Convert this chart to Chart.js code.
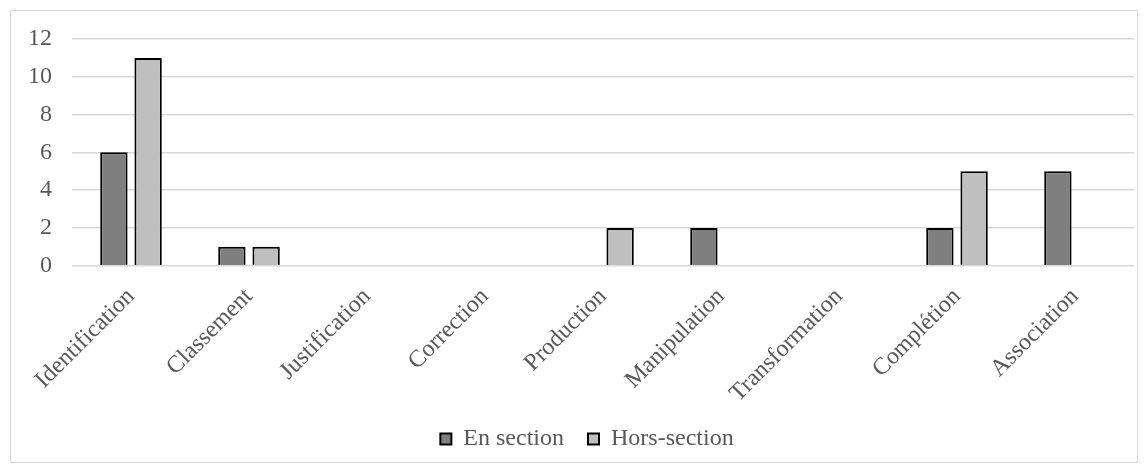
<!DOCTYPE html>
<html>
<head>
<meta charset="utf-8">
<script src="https://cdn.jsdelivr.net/npm/chart.js@4"></script>
<style>
	body { margin: 0; background: #fff; }
	#wrap {
		position: absolute;
		left: 10px;
		top: 10px;
		width: 1126px;
		height: 451px;
		border: 1px solid #d9d9d9;
	}
</style>
</head>
<body>
<div id="wrap"><canvas id="chart" width="1126" height="451"></canvas></div>
<script>
const categories = ["Identification", "Classement", "Justification", "Correction", "Production", "Manipulation", "Transformation", "Complétion", "Association"];
const enSection = [6, 1, 0, 0, 0, 2, 0, 2, 5];
const horsSection = [11, 1, 0, 0, 2, 0, 0, 5, 0];
const yTicks = [0, 2, 4, 6, 8, 10, 12];

const font = { family: "'Liberation Serif', 'Times New Roman', serif", size: 24 };
const textColor = "#595959";

// legend padding is wide for spacing between items, so pull back some of the
// height it reserves above the labels, and nudge it under the plot's centre
const legendShift = 14;
const legendOffsetX = 16;
const tightLegend = {
	id: "tightLegend",
	beforeLayout(chart) {
		const legend = chart.legend;
		if (!legend || legend._tight) return;
		legend._tight = true;
		const fit = legend.fit;
		legend.fit = function () {
			fit.call(this);
			this.height -= legendShift;
		};
		const draw = legend.draw;
		legend.draw = function () {
			this.ctx.save();
			this.ctx.translate(legendOffsetX, -legendShift);
			draw.call(this);
			this.ctx.restore();
		};
	},
};

const chart = new Chart(document.getElementById("chart"), {
	type: "bar",
	data: {
		labels: categories,
		datasets: [
			{
				label: "En section",
				data: enSection,
				backgroundColor: "#7f7f7f",
				borderColor: "#000",
				borderWidth: 2,
			},
			{
				label: "Hors-section",
				data: horsSection,
				backgroundColor: "#bfbfbf",
				borderColor: "#000",
				borderWidth: 2,
			},
		],
	},
	options: {
		responsive: false,
		animation: false,
		categoryPercentage: 0.58,
		barPercentage: 0.8,
		layout: {
			padding: { top: 9, right: 3, left: -3, bottom: 1 },
		},
		scales: {
			x: {
				grid: { display: false },
				border: { display: false },
				ticks: {
					font,
					color: textColor,
					minRotation: 45,
					maxRotation: 45,
					padding: 9,
				},
			},
			y: {
				min: 0,
				max: 12,
				afterBuildTicks: (axis) => {
					axis.ticks = yTicks.map((v) => ({ value: v }));
				},
				// tick padding also pads the top of the scale; keep that tighter
				afterFit: (axis) => {
					axis.paddingTop = 28;
				},
				grid: { color: "#d9d9d9", lineWidth: 1.5, drawTicks: false },
				border: { display: false },
				ticks: { font, color: textColor, padding: 20 },
			},
		},
		plugins: {
			legend: {
				position: "bottom",
				labels: {
					font,
					color: textColor,
					boxWidth: 11,
					boxHeight: 11,
					padding: 24,
				},
			},
			tooltip: { enabled: false },
		},
	},
	plugins: [tightLegend],
});
</script>
</body>
</html>
